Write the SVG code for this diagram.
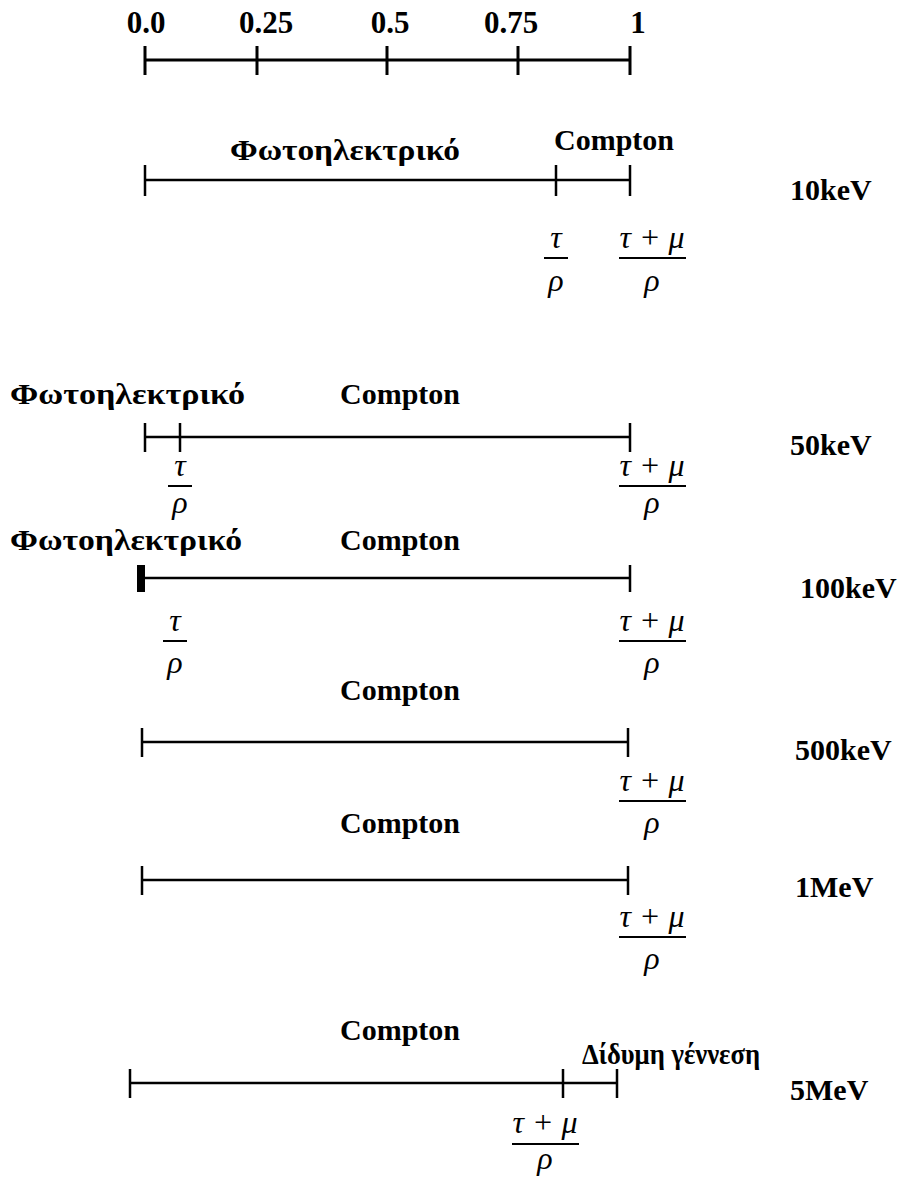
<svg xmlns="http://www.w3.org/2000/svg" width="901" height="1178" viewBox="0 0 901 1178">
<style>
.t{font-family:"Liberation Serif","Times New Roman",serif;font-weight:bold;font-size:30px;fill:#000}
.n{font-family:"Liberation Serif","Times New Roman",serif;font-weight:bold;font-size:31px;fill:#000;text-anchor:middle}
.m{font-family:"Liberation Serif","Times New Roman",serif;font-style:italic;font-size:32px;fill:#000;text-anchor:middle}
.ln{stroke:#000;stroke-width:2.5;fill:none}
.bar{stroke:#000;stroke-width:2;fill:none}
</style>
<rect width="901" height="1178" fill="#fff"/>
<g id="scale">
<text class="n" x="146" y="33">0.0</text>
<text class="n" x="266" y="33">0.25</text>
<text class="n" x="390" y="33">0.5</text>
<text class="n" x="511" y="33">0.75</text>
<text class="n" x="638" y="33">1</text>
<path class="ln" style="stroke-width:3" d="M145 60H630M145 46V75M257 46V75M387 46V75M518 46V75M630 46V75"/>
</g>
<g id="row10keV">
<text class="t" x="230" y="160" textLength="230" lengthAdjust="spacingAndGlyphs">Φωτοηλεκτρικό</text>
<text class="t" x="554" y="150" textLength="120" lengthAdjust="spacingAndGlyphs">Compton</text>
<path class="ln" d="M145 180H630M145 165V196M556 165V196M630 165V196"/>
<text class="t" x="790" y="200">10keV</text>
<text class="m" x="556" y="248">τ</text>
<path class="bar" d="M544 258H568"/>
<text class="m" x="556" y="291">ρ</text>
<text class="m" x="652" y="248">τ + μ</text>
<path class="bar" d="M619 258H686"/>
<text class="m" x="652" y="291">ρ</text>
</g>
<g id="row50keV">
<text class="t" x="10" y="404" textLength="235" lengthAdjust="spacingAndGlyphs">Φωτοηλεκτρικό</text>
<text class="t" x="400" y="404" text-anchor="middle">Compton</text>
<path class="ln" d="M145 437H630M145 423V452M180 423V452M630 423V452"/>
<text class="t" x="790" y="455">50keV</text>
<text class="m" x="180" y="476">τ</text>
<path class="bar" d="M168 486H192"/>
<text class="m" x="180" y="513">ρ</text>
<text class="m" x="652" y="476">τ + μ</text>
<path class="bar" d="M619 486H686"/>
<text class="m" x="652" y="513">ρ</text>
</g>
<g id="row100keV">
<text class="t" x="10" y="550" textLength="232" lengthAdjust="spacingAndGlyphs">Φωτοηλεκτρικό</text>
<text class="t" x="400" y="550" text-anchor="middle">Compton</text>
<path class="ln" d="M140 578H630M630 565V592"/>
<rect x="137" y="565" width="8" height="27" fill="#000"/>
<text class="t" x="800" y="598">100keV</text>
<text class="m" x="175" y="631">τ</text>
<path class="bar" d="M163 641H187"/>
<text class="m" x="175" y="673">ρ</text>
<text class="m" x="652" y="631">τ + μ</text>
<path class="bar" d="M619 641H686"/>
<text class="m" x="652" y="673">ρ</text>
</g>
<g id="row500keV">
<text class="t" x="400" y="700" text-anchor="middle">Compton</text>
<path class="ln" d="M142 742H628M142 728V757M628 728V757"/>
<text class="t" x="795" y="760">500keV</text>
<text class="m" x="652" y="791">τ + μ</text>
<path class="bar" d="M619 801H686"/>
<text class="m" x="652" y="833">ρ</text>
</g>
<g id="row1MeV">
<text class="t" x="400" y="833" text-anchor="middle">Compton</text>
<path class="ln" d="M142 880H628M142 866V895M628 866V895"/>
<text class="t" x="795" y="897">1MeV</text>
<text class="m" x="652" y="927">τ + μ</text>
<path class="bar" d="M619 937H686"/>
<text class="m" x="652" y="969">ρ</text>
</g>
<g id="row5MeV">
<text class="t" x="400" y="1040" text-anchor="middle">Compton</text>
<text class="t" x="582" y="1064" textLength="178" lengthAdjust="spacingAndGlyphs">Δίδυμη γέννεση</text>
<path class="ln" d="M130 1083H617M130 1069V1098M563 1069V1098M617 1069V1098"/>
<text class="t" x="790" y="1100">5MeV</text>
<text class="m" x="545" y="1133">τ + μ</text>
<path class="bar" d="M512 1144H579"/>
<text class="m" x="545" y="1169">ρ</text>
</g>
</svg>
